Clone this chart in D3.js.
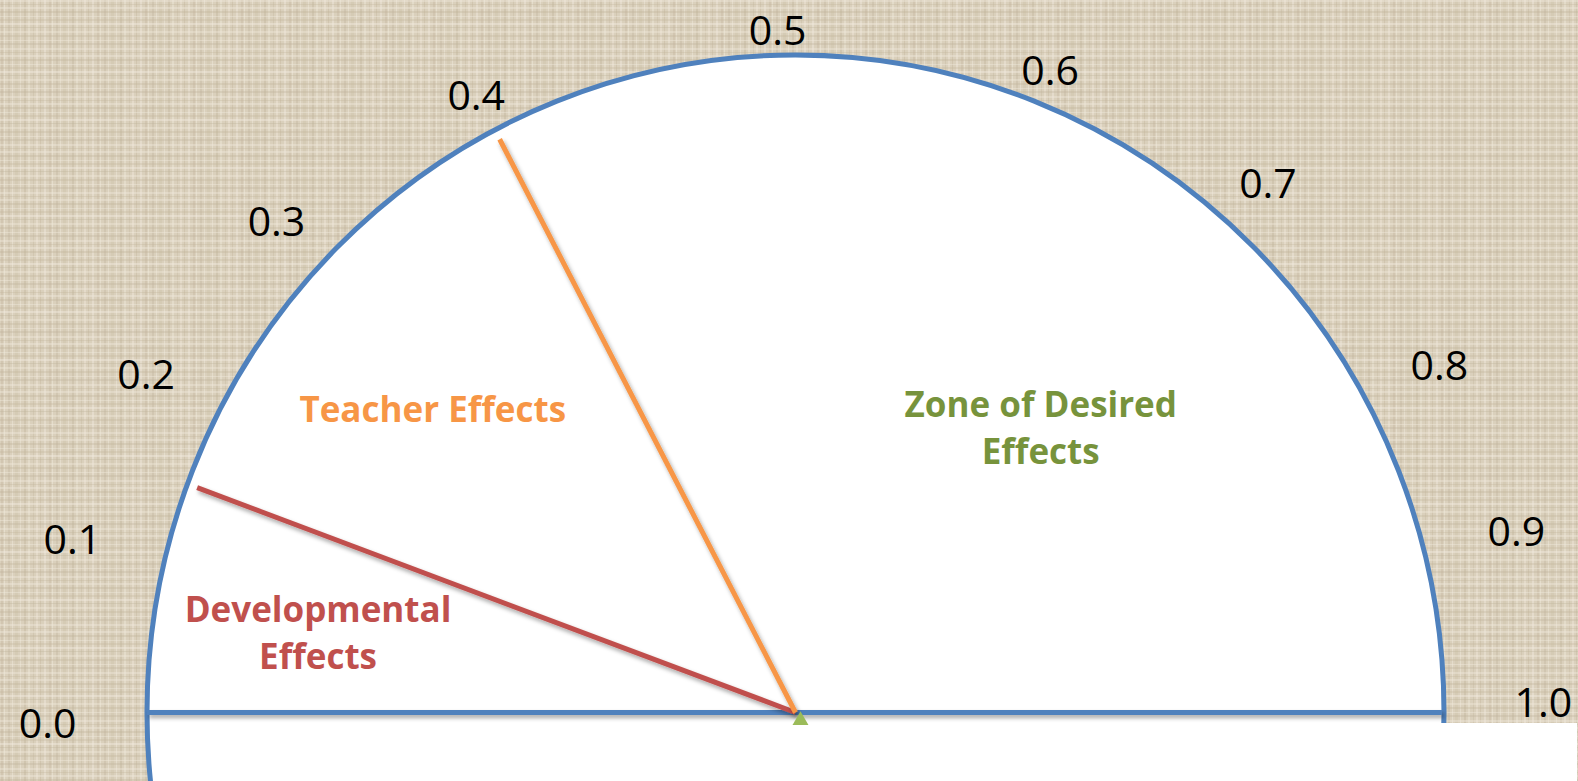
<!DOCTYPE html>
<html>
<head>
<meta charset="utf-8">
<script src="https://cdn.jsdelivr.net/npm/d3@7"></script>
<style>
  html, body { margin: 0; padding: 0; overflow: hidden; }
  svg { display: block; }
</style>
</head>
<body>
<svg width="1578" height="781"></svg>
<script>
// Tick values round the barometer
var tickValues = [0.0, 0.1, 0.2, 0.3, 0.4, 0.5, 0.6, 0.7, 0.8, 0.9, 1.0];
var tickLabels = ["0.0", "0.1", "0.2", "0.3", "0.4", "0.5", "0.6", "0.7", "0.8", "0.9", "1.0"];

// The two needles: where each zone ends
var needleNames = ["Developmental", "Teacher"];
var needleValues = [0.15, 0.40];

// Zone names (split in lines) and the value each one sits over
var zoneNames = [["Developmental", "Effects"], ["Teacher Effects"], ["Zone of Desired", "Effects"]];
var zoneValues = [0.08, 0.27, 0.69];

// Get the properties of the svg container
var svg = d3.select("svg"),
    width = +svg.attr("width"),
    height = +svg.attr("height");

var cx = 795.5, cy = 712.5,
    rx = 648.5, ry = 657.5;

// The dial is not linear, the slide had it drawn by hand.
// Angle in degrees measured from the left end, going over the top.
var angle = d3.scaleLinear()
    .domain(tickValues)
    .range([-0.7, 13.6, 27.6, 43.5, 62.7, 88.5, 111.6, 131.7, 151.6, 165.8, 179.1]);

var colors = {
    blue: "#4f81bd",
    red: "#c0504d",
    orange: "#f79646",
    green: "#77933c",
    triangle: "#9bbb59"
};
var needleColors = [colors.red, colors.orange];
var zoneColors = [colors.red, colors.orange, colors.green];
var zoneRadius = [486, 465, 384];

// point at a polar radius r and a value v
function polar(v, r) {
    var a = angle(v) * Math.PI / 180;
    return [cx - r * Math.cos(a), cy - r * Math.sin(a)];
}

// polar radius of an ellipse at the angle of value v
function ellipseR(v, a, b) {
    var t = angle(v) * Math.PI / 180;
    return a * b / Math.sqrt(Math.pow(b * Math.cos(t), 2) + Math.pow(a * Math.sin(t), 2));
}

//////////////////////////////
// Defs: canvas texture and shadow
var defs = svg.append("defs");

var tile = 48;
var pat = defs.append("pattern")
    .attr("id", "canvas")
    .attr("patternUnits", "userSpaceOnUse")
    .attr("width", tile)
    .attr("height", tile);

pat.append("rect").attr("width", tile).attr("height", tile).attr("fill", "#dad0bc");

// weave: a fixed set of threads, darker and lighter
var vThreads = [[1, 2, 0.35, "#c2b59c"], [4, 1, 0.5, "#efe9dc"], [8, 2, 0.3, "#bfb298"], [12, 1, 0.45, "#f1ebdf"],
                [15, 3, 0.25, "#c6baa1"], [20, 1, 0.5, "#eee7d9"], [24, 2, 0.35, "#bdb096"], [28, 2, 0.4, "#f0eadd"],
                [33, 1, 0.3, "#c1b49a"], [36, 2, 0.45, "#efe8da"], [40, 1, 0.35, "#bfb298"], [44, 2, 0.4, "#f2ece0"]];
var hThreads = [[0, 2, 0.4, "#f0e9dc"], [4, 1, 0.3, "#c0b399"], [7, 2, 0.45, "#eee7da"], [11, 2, 0.3, "#bdb096"],
                [16, 1, 0.4, "#f1ebde"], [19, 2, 0.3, "#c3b69d"], [23, 2, 0.45, "#f2ece0"], [27, 1, 0.3, "#bcaf95"],
                [31, 2, 0.4, "#efe8da"], [35, 2, 0.3, "#c1b49a"], [40, 1, 0.45, "#f0eadd"], [43, 2, 0.3, "#bfb298"]];

pat.selectAll("rect.v")
    .data(vThreads)
    .enter().append("rect")
    .attr("class", "v")
    .attr("x", function(d) { return d[0]; })
    .attr("y", 0)
    .attr("width", function(d) { return d[1]; })
    .attr("height", tile)
    .attr("fill", function(d) { return d[3]; })
    .attr("opacity", function(d) { return d[2]; });

pat.selectAll("rect.h")
    .data(hThreads)
    .enter().append("rect")
    .attr("class", "h")
    .attr("x", 0)
    .attr("y", function(d) { return d[0]; })
    .attr("width", tile)
    .attr("height", function(d) { return d[1]; })
    .attr("fill", function(d) { return d[3]; })
    .attr("opacity", function(d) { return d[2]; });

// userSpaceOnUse so a flat line still gets its shadow
var shadow = defs.append("filter")
    .attr("id", "shadow")
    .attr("filterUnits", "userSpaceOnUse")
    .attr("x", 0).attr("y", 0)
    .attr("width", width).attr("height", height);
shadow.append("feDropShadow")
    .attr("dx", 2)
    .attr("dy", 3)
    .attr("stdDeviation", 2)
    .attr("flood-color", "#000")
    .attr("flood-opacity", 0.35);

//////////////////////////////
// Background
svg.append("rect")
    .attr("width", width)
    .attr("height", height)
    .attr("fill", "url(#canvas)");

// Dial face
svg.append("ellipse")
    .attr("cx", cx)
    .attr("cy", cy)
    .attr("rx", rx)
    .attr("ry", ry)
    .attr("fill", "#fff")
    .attr("stroke", colors.blue)
    .attr("stroke-width", 5);

// white box below the base line
svg.append("rect")
    .attr("x", cx)
    .attr("y", cy + 10.5)
    .attr("width", width - cx - 1)
    .attr("height", height - cy)
    .attr("fill", "#fff");

// Base line
svg.append("line")
    .attr("x1", cx - rx)
    .attr("x2", cx + rx - 2)
    .attr("y1", cy)
    .attr("y2", cy)
    .attr("stroke", colors.blue)
    .attr("stroke-width", 5)
    .attr("filter", "url(#shadow)");

// Needles
svg.append("g")
    .attr("class", "needles")
    .selectAll("line")
    .data(needleValues)
    .enter().append("line")
    .attr("x1", cx)
    .attr("y1", cy)
    .attr("x2", function(d) { return polar(d, 0.984 * ellipseR(d, rx, ry))[0]; })
    .attr("y2", function(d) { return polar(d, 0.984 * ellipseR(d, rx, ry))[1]; })
    .attr("stroke", function(d, i) { return needleColors[i]; })
    .attr("stroke-width", 5)
    .attr("filter", "url(#shadow)")
    .append("title")
    .text(function(d, i) { return needleNames[i] + " " + d; });

// Pivot marker
svg.append("path")
    .attr("d", d3.symbol().type(d3.symbolTriangle).size(110))
    .attr("transform", "translate(" + (cx + 5) + "," + (cy + 8) + ")")
    .attr("fill", colors.triangle);

// Tick labels
svg.append("g")
    .attr("class", "ticks")
    .selectAll("text")
    .data(tickValues)
    .enter().append("text")
    .attr("x", function(d) { return polar(d, ellipseR(d, 748, 684))[0]; })
    .attr("y", function(d) { return polar(d, ellipseR(d, 748, 684))[1]; })
    .attr("text-anchor", "middle")
    .attr("dominant-baseline", "central")
    .attr("font-family", "'Open Sans', sans-serif")
    .attr("font-size", 41)
    .attr("fill", "#000")
    .text(function(d, i) { return tickLabels[i]; });

// Zone names
var zone = svg.append("g")
    .attr("class", "zones")
    .selectAll("text")
    .data(zoneValues)
    .enter().append("text")
    .attr("text-anchor", "middle")
    .attr("font-family", "'Open Sans', sans-serif")
    .attr("font-weight", "bold")
    .attr("font-size", 35)
    .attr("fill", function(d, i) { return zoneColors[i]; })
    .attr("transform", function(d, i) {
        var p = polar(d, zoneRadius[i]);
        return "translate(" + p[0] + "," + p[1] + ")";
    });

zone.selectAll("tspan")
    .data(function(d, i) { return zoneNames[i]; })
    .enter().append("tspan")
    .attr("x", 0)
    .attr("dy", function(d, j) { return j === 0 ? 0 : 47; })
    .text(function(d) { return d; });
</script>
</body>
</html>
